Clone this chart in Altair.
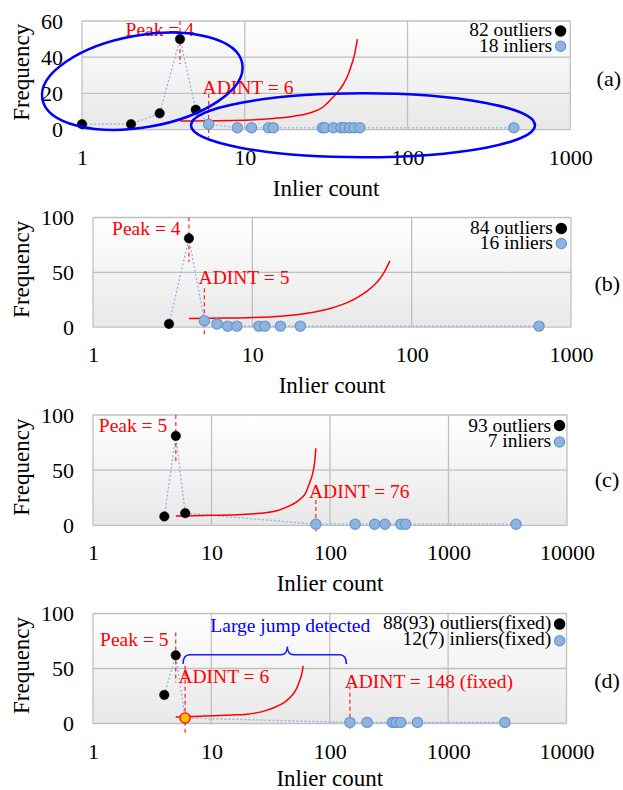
import altair as alt
import pandas as pd

FONT = "Liberation Serif"
RED = "#ff0000"
BLUE_TXT = "#0000ff"
PT_FILL = "#8fb3df"
PT_STROKE = "#6696cf"
LINE_BLUE = "#8fb4e3"
GRID = "#c0c0c0"

# ---------------- data ----------------
# panel (a)
a_out_x = [1, 2, 3, 4, 5]
a_out_y = [3, 3, 9, 50, 11]
a_in_x = [6, 9, 11, 14, 15, 30, 31, 35, 39, 41, 44, 47, 51, 450]
a_in_y = [3, 1, 1, 1, 1, 1, 1, 1, 1, 1, 1, 1, 1, 1]
a_curve_x = [4, 10, 15, 20, 25, 30, 34, 37, 40, 43, 45, 47.4, 49.2]
a_curve_y = [4.8, 5.2, 6.2, 7.4, 9.2, 12.2, 16.9, 20.5, 24.5, 30, 35, 42, 50]
a_rule_x = [4, 6]
a_rule_top = [60, 19.7]
a_rule_bot = [36.3, -4.4]

# panel (b)
b_out_x = [3, 4]
b_out_y = [3, 81]
b_in_x = [5, 6, 7, 8, 11, 12, 15, 20, 630]
b_in_y = [6, 3, 1, 1, 1, 1, 1, 1, 1]
b_curve_x = [4, 7, 10, 15, 20, 26, 32, 40, 46, 52, 58, 63, 68, 73]
b_curve_y = [8, 8.3, 8.8, 10, 11.8, 14.5, 17.8, 22.8, 27.5, 32.5, 38.2, 44, 51.4, 60.4]
b_rule_x = [4, 5]
b_rule_top = [100, 35.5]
b_rule_bot = [59.5, -7.3]

# panel (c)
c_out_x = [4, 5, 6]
c_out_y = [8, 81, 11]
c_in_x = [76, 163, 238, 291, 396, 435, 3715]
c_in_y = [1, 1, 1, 1, 1, 1, 1]
c_curve_x = [5, 10, 18, 26, 35, 44, 52, 57, 62, 67, 71, 74, 76]
c_curve_y = [8.4, 9, 9.8, 10.9, 13, 16.9, 21, 24.5, 29, 38, 46, 56, 69.8]
c_rule_x = [5, 76]
c_rule_top = [100, 23]
c_rule_bot = [58.3, -5.7]

# panel (d)
d_out_x = [4, 5]
d_out_y = [26, 62]
d_fix_x = [6]
d_fix_y = [5]
d_in_x = [148, 207, 339, 362, 398, 551, 3013]
d_in_y = [1, 1, 1, 1, 1, 1, 1]
d_curve_x = [5, 7, 10, 15, 20, 27, 34, 41, 47.5, 52, 55.7, 58, 59.6]
d_curve_y = [6, 6.3, 7, 7.7, 8.5, 10.8, 14.5, 19, 25, 31, 38.8, 45, 52.5]
d_rule_x = [5, 6, 148]
d_rule_top = [82.7, 52.5, 34.3]
d_rule_bot = [37.3, -11.2, -4.8]

ticks_1000 = [1, 10, 100, 1000]
ticks_10000 = [1, 10, 100, 1000, 10000]

X_TITLE = "Inlier count"
Y_TITLE = "Frequency"


def ellipse_path(ry):
    k = 0.5523
    ky = round(k * ry, 4)
    return (f"M -1 0 C -1 {-ky} {-k} {-ry} 0 {-ry} C {k} {-ry} 1 {-ky} 1 0 "
            f"C 1 {ky} {k} {ry} 0 {ry} C {-k} {ry} -1 {ky} -1 0 Z")


BRACE = ("M -1 0.114 Q -1 0 -0.92 0 L 0.197 0 Q 0.277 0 0.277 -0.102 "
         "Q 0.277 0 0.357 0 L 0.92 0 Q 1 0 1 0.114")

one = pd.DataFrame({"k": [0]})


def panel(W, H, xdom, xticks, ydom, yticks, titleX,
          out_x, out_y, in_x, in_y, curve_x, curve_y,
          rule_x, rule_top, rule_bot, texts, legend, label,
          fix_x=None, fix_y=None, shapes=(), xoff=0, xtitle_dy=66):
    xscale = alt.Scale(type="log", domain=xdom, nice=False)
    if xoff:
        xscale = alt.Scale(type="log", domain=xdom, nice=False, range=[-xoff, W])
    X = alt.X("x:Q", scale=xscale,
              axis=alt.Axis(values=xticks, format="d", grid=False, ticks=False,
                            tickSize=0, domain=False, labelFont=FONT,
                            labelFontSize=22, labelColor="black",
                            labelPadding=17.5, labelFlush=False,
                            labelOverlap=False, title=None))
    Y = alt.Y("y:Q", scale=alt.Scale(domain=ydom, nice=False, zero=False),
              axis=alt.Axis(values=yticks, grid=False, ticks=False, tickSize=0,
                            domain=False, offset=xoff,
                            labelFont=FONT, labelFontSize=22, labelColor="black",
                            labelPadding=19.5, labelFlush=False, title=None))

    grad = alt.LinearGradient(
        gradient="linear",
        stops=[alt.GradientStop(color="#ffffff", offset=0),
               alt.GradientStop(color="#e8e8e8", offset=1)],
        x1=0, x2=0, y1=0, y2=1)
    bg = alt.Chart(one).mark_rect(color=grad).encode(
        x=alt.value(-xoff), x2=alt.value(W), y=alt.value(0), y2=alt.value(H))

    gx = alt.Chart(pd.DataFrame({"x": xticks})).mark_rule(
        color=GRID, strokeWidth=1.3).encode(x=X, y=alt.value(0), y2=alt.value(H))
    gy = alt.Chart(pd.DataFrame({"y": yticks})).mark_rule(
        color=GRID, strokeWidth=1.3).encode(y=Y, x=alt.value(-xoff), x2=alt.value(W))

    all_x = list(out_x) + (list(fix_x) if fix_x else []) + list(in_x)
    all_y = list(out_y) + (list(fix_y) if fix_y else []) + list(in_y)
    conn = alt.Chart(pd.DataFrame({"x": all_x, "y": all_y})).mark_line(
        color=LINE_BLUE, strokeDash=[2, 2], strokeWidth=1.3).encode(x=X, y=Y)

    curve = alt.Chart(pd.DataFrame({"x": curve_x, "y": curve_y})).mark_line(
        color=RED, strokeWidth=1.5, interpolate="monotone").encode(x=X, y=Y)

    rules = alt.Chart(pd.DataFrame({"x": rule_x, "y": rule_top, "y2": rule_bot})).mark_rule(
        color=RED, strokeDash=[4, 3], strokeWidth=1.2, opacity=0.85).encode(
        x=X, y=Y, y2="y2:Q")

    outs = alt.Chart(pd.DataFrame({"x": out_x, "y": out_y})).mark_point(
        shape="circle", filled=True, fill="black", stroke="black", strokeWidth=0.5,
        size=90, opacity=1).encode(x=X, y=Y)
    ins = alt.Chart(pd.DataFrame({"x": in_x, "y": in_y})).mark_point(
        shape="circle", filled=True, fill=PT_FILL, stroke=PT_STROKE, strokeWidth=1.2,
        size=105, opacity=1).encode(x=X, y=Y)

    layers = [bg, gx, gy, conn, curve, rules, outs, ins]
    if fix_x:
        layers.append(alt.Chart(pd.DataFrame({"x": fix_x, "y": fix_y})).mark_point(
            shape="circle", filled=True, fill="#ffc000", stroke=RED, strokeWidth=1.3,
            size=105, opacity=1).encode(x=X, y=Y))

    for (t, tx, ty, col, al) in texts:
        layers.append(alt.Chart(one).mark_text(
            font=FONT, fontSize=19.5, color=col, align=al, baseline="alphabetic").encode(
            x=alt.value(tx), y=alt.value(ty), text=alt.value(t)))

    (lt1, lt2, lx, ly1, ly2, dx, dy1, dy2) = legend
    for (t, ty) in ((lt1, ly1), (lt2, ly2)):
        layers.append(alt.Chart(one).mark_text(
            font=FONT, fontSize=19.5, color="black", align="right",
            baseline="alphabetic").encode(x=alt.value(lx), y=alt.value(ty),
                                           text=alt.value(t)))
    layers.append(alt.Chart(one).mark_point(
        shape="circle", filled=True, fill="black", stroke="black", size=90,
        opacity=1).encode(x=alt.value(dx), y=alt.value(dy1)))
    layers.append(alt.Chart(one).mark_point(
        shape="circle", filled=True, fill=PT_FILL, stroke=PT_STROKE, strokeWidth=1.2,
        size=105, opacity=1).encode(x=alt.value(dx), y=alt.value(dy2)))

    for (path, sz, ang, cx, cy, col, sw) in shapes:
        kw = dict(shape=path, size=sz, filled=False, stroke=col, strokeWidth=sw,
                  opacity=1)
        if ang:
            kw["angle"] = ang
        layers.append(alt.Chart(one).mark_point(**kw).encode(
            x=alt.value(cx), y=alt.value(cy)))

    (lab, labx, laby) = label
    layers.append(alt.Chart(one).mark_text(
        font=FONT, fontSize=22, color="black", align="center",
        baseline="middle").encode(x=alt.value(labx), y=alt.value(laby),
                                  text=alt.value(lab)))

    # axis titles as text
    layers.append(alt.Chart(one).mark_text(
        font=FONT, fontSize=23, color="black", align="center",
        baseline="alphabetic").encode(x=alt.value((W - xoff) / 2),
                                      y=alt.value(H + xtitle_dy),
                                      text=alt.value(X_TITLE)))
    layers.append(alt.Chart(one).mark_text(
        font=FONT, fontSize=23, color="black", align="center",
        baseline="alphabetic", angle=270).encode(
        x=alt.value(titleX), y=alt.value(H / 2 - 3), text=alt.value(Y_TITLE)))

    return alt.layer(*layers).properties(width=W, height=H)


pa = panel(477.3, 108.6, [1, 1000], ticks_1000, [0, 60], [0, 20, 40, 60], -64.2,
           a_out_x, a_out_y, a_in_x, a_in_y, a_curve_x, a_curve_y,
           a_rule_x, a_rule_top, a_rule_bot,
           [("Peak = 4", 66.8, 15.3, RED, "center"),
            ("ADINT = 6", 155, 72.6, RED, "center")],
           ("82 outliers", "18 inliers", 459, 15.3, 31, 467.6, 10, 25.3),
           ("(a)", 515.8, 58),
           shapes=[(ellipse_path(0.453), 41209, 350, 49.3, 60.3, "#0000ff", 2.5),
                   (ellipse_path(0.186), 118336, 0, 270, 104.3, "#0000ff", 2.5)],
           xoff=11)

pb = panel(478, 109.7, [1, 1000], ticks_1000, [0, 100], [0, 50, 100], -64.2,
           b_out_x, b_out_y, b_in_x, b_in_y, b_curve_x, b_curve_y,
           b_rule_x, b_rule_top, b_rule_bot,
           [("Peak = 4", 53.3, 17.7, RED, "center"),
            ("ADINT = 5", 151, 66.7, RED, "center")],
           ("84 outliers", "16 inliers", 459.8, 16, 31, 468.3, 11, 26),
           ("(b)", 514.3, 66))

pc = panel(474, 110.3, [1, 10000], ticks_10000, [0, 100], [0, 50, 100], -64.2,
           c_out_x, c_out_y, c_in_x, c_in_y, c_curve_x, c_curve_y,
           c_rule_x, c_rule_top, c_rule_bot,
           [("Peak = 5", 40, 16.7, RED, "center"),
            ("ADINT = 76", 266.3, 83.3, RED, "center")],
           ("93 outliers", "7 inliers", 458, 16.7, 31.7, 466.5, 10.5, 27),
           ("(c)", 514, 65))

pd_ = panel(473.5, 110, [1, 10000], ticks_10000, [0, 100], [0, 50, 100], -64.2,
            d_out_x, d_out_y, d_in_x, d_in_y, d_curve_x, d_curve_y,
            d_rule_x, d_rule_top, d_rule_bot,
            [("Peak = 5", 41.3, 32.3, RED, "center"),
             ("ADINT = 6", 130.8, 69, RED, "center"),
             ("ADINT = 148 (fixed)", 335.8, 74.6, RED, "center"),
             ("Large jump detected", 197.3, 18.5, BLUE_TXT, "center")],
            ("88(93) outliers(fixed)", "12(7) inliers(fixed)", 458.3, 15.6, 31.6,
             466.6, 10.6, 27.3),
            ("(d)", 514, 67.3), fix_x=d_fix_x, fix_y=d_fix_y,
            shapes=[(BRACE, 26667, 0, 171.7, 41.3, "#1a1aff", 1.5)],
            xtitle_dy=62)

chart = alt.concat(pa, pb, pc, pd_, columns=1, spacing=5.5).properties(
    padding={"left": 10, "top": 10, "right": 0, "bottom": 0},
    background="white"
).configure_view(strokeWidth=0).configure_text(font=FONT)

chart.save("out.html", embed_options={"renderer": "svg", "actions": False})
